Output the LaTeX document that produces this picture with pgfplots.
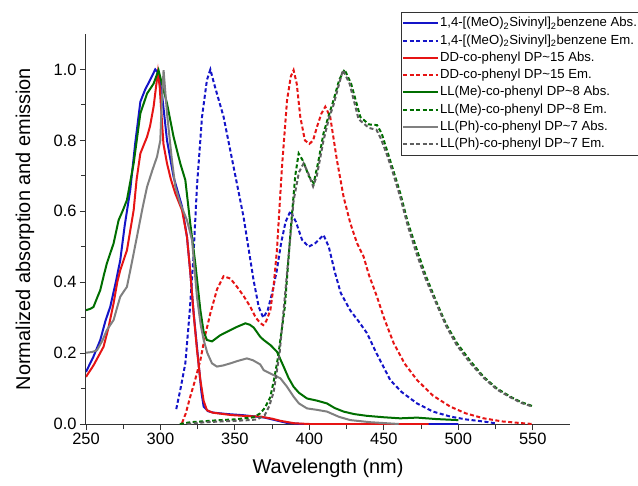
\documentclass[border=0pt]{standalone}
\usepackage{fontspec}
\setmainfont{Liberation Sans}
\usepackage{pgfplots}
\pgfplotsset{compat=1.18}

\definecolor{cblue}{RGB}{20,20,200}
\definecolor{cred}{RGB}{230,20,20}
\definecolor{cgreen}{RGB}{0,110,0}
\definecolor{cgray}{RGB}{128,128,128}
\definecolor{cdgray}{RGB}{95,95,95}

\begin{document}
\begin{tikzpicture}
\begin{axis}[
    at={(0,0)}, anchor=south west,
    scale only axis,
    width=484bp, height=390bp,
    xmin=250, xmax=575,
    ymin=0, ymax=1.1,
    axis x line*=bottom, axis y line*=left,
    axis line style={-, line width=1bp, black!80},
    xtick={250,300,...,550},
    ytick={0,0.2,...,1.0},
    minor x tick num=1, minor y tick num=1,
    tick align=outside,
    major tick length=6bp, minor tick length=5bp,
    tick style={line width=0.9bp, black!80},
    /pgf/number format/assume math mode=true,
    tick label style={font=\fontsize{16.5}{18}\selectfont},
    yticklabel style={/pgf/number format/.cd, fixed, fixed zerofill, precision=1},
    xticklabel style={/pgf/number format/.cd, 1000 sep={}},
    label style={font=\fontsize{20}{24}\selectfont},
    xlabel={Wavelength (nm)},
    ylabel={Normalized absorption and emission},
    x label style={at={(axis description cs:0.5,-0.1128)}, anchor=center},
    y label style={at={(axis description cs:-0.126,0.5)}, anchor=center, rotate=0},
    legend style={at={(axis description cs:0.6508,1.0564)}, anchor=north west,
        draw=black!80, line width=0.8bp, inner xsep=0.7bp, inner ysep=2.8bp,
        font=\fontsize{13.2}{16}\selectfont, row sep=1.3bp,
        nodes={inner sep=1bp, text height=10.5bp, text depth=3.5bp}},
    legend cell align=left,
    legend image code/.code={\draw[#1] (0bp,0bp) -- (35bp,0bp);},
]
% 1,4-[(MeO)2Sivinyl]2benzene Abs.
\addplot[color=cblue, line width=2bp, solid] coordinates {
(250,0.147)(255,0.19)(259.6,0.237)(263,0.29)(266.3,0.331)(270,0.40)(273,0.462)
(276,0.56)(279.7,0.66)(283,0.79)(286.5,0.909)(289.8,0.944)(293,0.97)(296.5,1.0)
(298.5,0.99)(301,0.932)(304.4,0.80)(308.8,0.697)(314.5,0.613)(317.8,0.528)
(320,0.43)(322.3,0.312)(325.6,0.171)(327.5,0.09)(329,0.049)(332,0.036)
(335.7,0.032)(345,0.028)(355,0.025)(362,0.022)(370,0.018)(378,0.01)(385,0.003)
(395,0.0)(500,0.0)
};
% 1,4-[(MeO)2Sivinyl]2benzene Em.
\addplot[color=cblue, line width=2bp, dash pattern=on 4bp off 2.5bp] coordinates {
(310.6,0.042)(313.5,0.10)(316.7,0.171)(319.5,0.31)(322,0.46)(324.5,0.67)
(327.9,0.866)(331.2,0.97)(333.5,1.0)(336,0.96)(342.4,0.866)(349.1,0.725)
(355.8,0.584)(362.5,0.406)(366,0.33)(369,0.30)(372,0.32)(375,0.37)(378,0.43)
(381,0.51)(384,0.57)(387.2,0.60)(391,0.57)(395,0.52)(399.5,0.50)(404,0.51)
(409.5,0.533)(413,0.50)(417,0.43)(421,0.37)(427.5,0.32)(433,0.29)(438.7,0.256)
(445,0.2)(454.3,0.124)(462,0.09)(472.3,0.058)(483,0.035)(494.6,0.021)
(505,0.013)(517,0.007)(525,0.002)
};
% DD-co-phenyl DP~15 Abs.
\addplot[color=cred, line width=2bp, solid] coordinates {
(250,0.133)(255,0.165)(261.8,0.218)(265,0.27)(268.5,0.34)(271,0.40)(273,0.434)
(277.5,0.49)(282,0.603)(284,0.69)(286.5,0.763)(291,0.81)(293,0.84)(295.4,0.895)
(297,0.95)(298.3,0.993)(299.5,0.95)(302,0.79)(304.4,0.735)(307,0.69)(310,0.65)
(314.5,0.603)(317.8,0.528)(320,0.43)(322.3,0.31)(324.5,0.21)(326.8,0.124)
(329,0.065)(331.2,0.039)(335,0.032)(348,0.025)(360,0.022)(367,0.021)(375,0.015)
(380.5,0.009)(390,0.002)(400,0.0)(480,0.0)
};
% DD-co-phenyl DP~15 Em.
\addplot[color=cred, line width=2bp, dash pattern=on 4bp off 2.5bp] coordinates {
(314.5,0.003)(317,0.03)(320,0.077)(323,0.12)(326.8,0.18)(330,0.25)(333.5,0.312)
(338,0.38)(342.4,0.417)(347,0.41)(351.4,0.387)(356,0.36)(360.3,0.331)(364,0.30)
(367,0.285)(369,0.279)(371,0.29)(373.8,0.321)(376,0.39)(378.2,0.49)(381.6,0.725)
(385,0.913)(387.5,0.98)(389.4,0.998)(391.5,0.96)(393.9,0.866)(397,0.80)(400,0.79)
(402.5,0.80)(405.1,0.838)(408,0.875)(410.7,0.895)(414,0.866)(418.5,0.744)
(423,0.64)(427.5,0.566)(432,0.51)(436.4,0.472)(440,0.42)(445.4,0.359)(450,0.30)
(456.6,0.228)(464,0.17)(472.3,0.124)(483,0.08)(494.6,0.049)(505,0.03)(517,0.016)
(530,0.007)(543.8,0.002)(550,0.0)
};
% LL(Me)-co-phenyl DP~8 Abs.
\addplot[color=cgreen, line width=2bp, solid] coordinates {
(250,0.321)(253,0.325)(255,0.33)(259.6,0.378)(262,0.42)(264,0.453)(268.5,0.509)
(271.9,0.575)(275,0.605)(277.5,0.632)(282,0.735)(286.5,0.876)(291,0.932)
(295.4,0.96)(298.7,0.998)(301,0.96)(304.4,0.904)(308.8,0.81)(313.3,0.735)
(316.7,0.688)(320,0.566)(323.4,0.453)(326.8,0.321)(329,0.26)(331.2,0.237)
(334.6,0.233)(340,0.25)(344.7,0.26)(351.4,0.274)(357,0.284)(360,0.28)
(362.6,0.272)(367,0.246)(369.3,0.237)(374,0.222)(378.2,0.204)(382.7,0.162)
(386,0.13)(389.4,0.105)(393,0.088)(398.4,0.072)(405,0.066)(411.8,0.058)
(417,0.045)(423,0.035)(430,0.028)(438.7,0.023)(450,0.019)(461,0.016)
(472.3,0.018)(485,0.014)(500,0.011)
};
% LL(Me)-co-phenyl DP~8 Em.
\addplot[color=cgreen, line width=2bp, dash pattern=on 4bp off 2.5bp] coordinates {
(313,0.0)(320,0.005)(330,0.008)(340,0.011)(350,0.013)(362.5,0.019)(367,0.03)
(370,0.045)(373.7,0.075)(376.5,0.13)(379,0.19)(383.5,0.33)(387.5,0.55)
(390.5,0.70)(392.8,0.763)(396,0.74)(399.5,0.70)(402.9,0.679)(406,0.74)
(409.5,0.82)(413,0.87)(416.2,0.913)(420,0.97)(423.6,1.0)(428,0.96)(434.2,0.866)
(440,0.845)(445.4,0.843)(448.5,0.82)(452.1,0.772)(456,0.72)(461.1,0.65)
(466,0.57)(472.3,0.49)(478,0.42)(485.7,0.34)(492,0.28)(499.1,0.228)(508,0.178)
(517,0.133)(526,0.10)(535,0.077)(542,0.062)(549.5,0.051)
};
% LL(Ph)-co-phenyl DP~7 Abs.
\addplot[color=cgray, line width=2bp, solid] coordinates {
(250,0.201)(254,0.203)(257.4,0.208)(261,0.235)(264,0.265)(268.5,0.293)(271,0.33)
(273,0.359)(277.5,0.387)(281,0.46)(284.2,0.528)(288,0.61)(291,0.669)
(294.5,0.715)(297.7,0.754)(299.9,0.80)(300.8,0.9)(302.1,0.998)(303,0.95)
(304.4,0.876)(307.7,0.744)(310,0.669)(313.3,0.622)(317.8,0.575)(321.2,0.519)
(324.5,0.359)(327,0.28)(329,0.237)(331.5,0.2)(334.6,0.171)(337.9,0.162)
(342,0.165)(346.9,0.171)(352,0.178)(358,0.185)(362,0.18)(367,0.168)
(369.3,0.152)(375,0.14)(380.5,0.129)(385,0.105)(389.4,0.077)(393,0.058)
(398.4,0.044)(405,0.04)(411.8,0.035)(420,0.02)(427.5,0.011)(441,0.005)(460,0.0)
};
% LL(Ph)-co-phenyl DP~7 Em.
\addplot[color=cdgray, line width=2bp, dash pattern=on 4bp off 2.5bp] coordinates {
(318,0.0)(330,0.005)(345,0.008)(360,0.011)(365,0.013)(370,0.025)(373,0.05)
(376,0.09)(380,0.2)(384,0.38)(389.4,0.63)(393,0.71)(396.1,0.735)(399,0.71)
(402.5,0.67)(405,0.70)(409.5,0.80)(413,0.86)(416.2,0.9)(420,0.96)(422.5,0.998)
(427,0.96)(433,0.86)(440,0.835)(445,0.83)(448,0.805)(452,0.76)(456,0.71)
(461,0.64)(466,0.56)(472,0.48)(478,0.41)(485.7,0.335)(492,0.275)(499,0.222)
(508,0.172)(517,0.13)(526,0.097)(535,0.075)(542,0.06)(549,0.05)
};
\legend{{1,4-[(MeO)\textsubscript{2}Sivinyl]\textsubscript{2}benzene Abs.},
{1,4-[(MeO)\textsubscript{2}Sivinyl]\textsubscript{2}benzene Em.},
DD-co-phenyl DP\char`~15 Abs., DD-co-phenyl DP\char`~15 Em.,
LL(Me)-co-phenyl DP\char`~8 Abs., LL(Me)-co-phenyl DP\char`~8 Em.,
LL(Ph)-co-phenyl DP\char`~7 Abs., LL(Ph)-co-phenyl DP\char`~7 Em.}
\end{axis}
\pgfresetboundingbox
\path[use as bounding box] (-86bp,-62bp) rectangle (552bp,424bp);
\end{tikzpicture}
\end{document}
